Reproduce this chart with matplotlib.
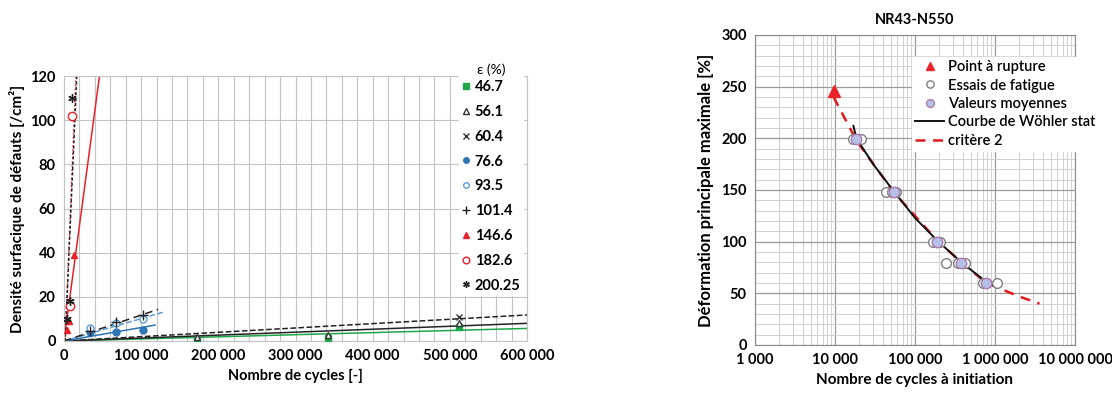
import matplotlib
matplotlib.use("Agg")
import matplotlib.pyplot as plt
from matplotlib.ticker import MultipleLocator, FuncFormatter, LogLocator

plt.rcParams["font.family"] = ["Lato", "DejaVu Sans"]

# ── Left chart: defect density vs cycles ─────────────────────
strain_labels = ["46.7", "56.1", "60.4", "76.6", "93.5", "101.4", "146.6", "182.6", "200.25"]

pts_n = [
    [172000, 342000, 512000],
    [172000, 342000, 512000],
    [512000],
    [34000, 68000, 102000],
    [34000, 68000, 102000],
    [34000, 68000, 102000],
    [3500, 7000, 13000],
    [7500, 10500],
    [3500, 8000, 11000],
]
pts_d = [
    [0.5, 1.3, 6.5],
    [2.0, 2.7, 8.0],
    [11.0],
    [4.2, 4.3, 5.0],
    [5.7, 8.0, 9.8],
    [4.5, 8.7, 11.8],
    [5.0, 9.0, 39.0],
    [16.0, 102.0],
    [10.0, 18.0, 110.0],
]
# trend lines (start / end)
trend_n = [
    [0, 600000], [0, 600000], [0, 600000],
    [0, 118000], [0, 131000], [0, 122000],
    [0, 46000], [1500, 15500], [1500, 16500],
]
trend_d = [
    [0, 5.7], [0, 8.0], [0, 11.8],
    [0, 7.2], [0, 13.3], [0, 14.3],
    [0, 120], [0, 120], [0, 120],
]

# ── Right chart: Wöhler curve ────────────────────────────────
rupture_n = [9600]
rupture_e = [246]
essais_n = [17000, 19000, 21000, 43000, 51000, 58000, 167000, 186000, 205000,
            245000, 348000, 422000, 700000, 780000, 1050000]
essais_e = [199, 199, 199, 148, 148, 148, 100, 100, 100, 79, 79, 79, 60, 60, 60]
moy_n = [18500, 54000, 190000, 380000, 780000]
moy_e = [199, 148, 100, 79, 60]
wohler_n = [17000, 18500, 30000, 54000, 100000, 190000, 380000, 780000, 1000000]
wohler_e = [212, 200, 175, 149, 123, 101, 80, 61, 57]
crit_n = [9600, 18500, 54000, 190000, 380000, 780000, 2000000, 3600000]
crit_e = [240, 198, 148, 101, 80, 60, 47, 40]

fig = plt.figure(figsize=(11.12, 3.94), dpi=100)

# ---- left axes
ax = fig.add_axes([64 / 1112, 1 - 341 / 394, 463 / 1112, 265 / 394])
styles = [
    dict(marker="s", mfc="#21a54a", mec="#21a54a", ms=5, ls="-", lc="#21a54a"),
    dict(marker="^", mfc="white", mec="#333333", ms=5, ls="-", lc="#222222"),
    dict(marker="x", mfc="none", mec="#333333", ms=5, ls="--", lc="#222222"),
    dict(marker="o", mfc="#2e75b6", mec="#2e75b6", ms=5, ls="-", lc="#2e75b6"),
    dict(marker="o", mfc="white", mec="#5b9bd5", ms=5, ls="--", lc="#5b9bd5"),
    dict(marker="+", mfc="none", mec="#222222", ms=7, ls=(0, (5, 3)), lc="#222222"),
    dict(marker="^", mfc="#e8202a", mec="#e8202a", ms=5, ls="-", lc="#e8202a"),
    dict(marker="o", mfc="white", mec="#e8202a", ms=6, ls=":", lc="#e8202a"),
    dict(marker=(6, 2, 0), mfc="none", mec="#222222", ms=6, ls=(0, (2, 1.5)), lc="#222222"),
]
for i, lab in enumerate(strain_labels):
    s = styles[i]
    ax.plot(trend_n[i], trend_d[i], ls=s["ls"], color=s["lc"], lw=1.1, zorder=2)
    ax.plot(pts_n[i], pts_d[i], ls="none", marker=s["marker"], mfc=s["mfc"],
            mec=s["mec"], ms=s["ms"], mew=1.0, label=lab, zorder=3)

ax.set_xlim(0, 600000)
ax.set_ylim(0, 120)
ax.xaxis.set_major_locator(MultipleLocator(100000))
ax.xaxis.set_minor_locator(MultipleLocator(20000))
ax.yaxis.set_major_locator(MultipleLocator(20))
ax.grid(True, which="both", color="#c4c4c4", lw=0.8, zorder=0)
ax.set_axisbelow(True)
ax.xaxis.set_major_formatter(FuncFormatter(lambda v, p: f"{int(v):,}".replace(",", " ")))
ax.tick_params(which="both", length=0, labelsize=10.5, pad=6)
for t in ax.get_xticklabels() + ax.get_yticklabels():
    t.set_fontweight("bold")
for sp in ax.spines.values():
    sp.set_color("#c4c4c4")
ax.set_xlabel("Nombre de cycles [-]", fontsize=10.5, fontweight="bold", labelpad=4)
ax.set_ylabel("Densité surfacique de défauts [/cm²]", fontsize=11, fontweight="bold", labelpad=4)

leg = ax.legend(loc="upper left", bbox_to_anchor=(452 / 1112, 1 - 54 / 394),
                bbox_transform=fig.transFigure, title="ε (%)", frameon=True,
                fancybox=False, edgecolor="white", framealpha=1,
                prop=dict(weight="bold", size=10.5), handlelength=0.6,
                handletextpad=0.3, labelspacing=0.74, markerscale=0.8,
                borderpad=0.15, title_fontsize=10)
leg._legend_box.sep = 3
leg.get_title().set_ha("center")

# ---- right axes
ax2 = fig.add_axes([755 / 1112, 1 - 345 / 394, 320 / 1112, 310 / 394])
ax2.set_xscale("log")
ax2.plot(crit_n, crit_e, ls=(0, (4, 3)), color="#e31a1c", lw=1.8, zorder=2, label="critère 2")
ax2.plot(wohler_n, wohler_e, ls="-", color="#111111", lw=1.4, zorder=3, label="Courbe de Wöhler stat")
ax2.plot(essais_n, essais_e, ls="none", marker="o", mfc="white", mec="#808080", ms=7,
         mew=1.0, zorder=4, label="Essais de fatigue")
ax2.plot(moy_n, moy_e, ls="none", marker="o", mfc="#b4c0e4", mec="#b07ab0", ms=7.5,
         mew=1.0, zorder=5, label="Valeurs moyennes")
ax2.plot(rupture_n, rupture_e, ls="none", marker="^", color="#e8262a", ms=8,
         zorder=6, label="Point à rupture")

ax2.set_xlim(1000, 1e7)
ax2.set_ylim(0, 300)
ax2.yaxis.set_major_locator(MultipleLocator(50))
ax2.yaxis.set_minor_locator(MultipleLocator(10))
ax2.xaxis.set_major_locator(LogLocator(base=10, numticks=10))
ax2.xaxis.set_minor_locator(LogLocator(base=10, subs=range(2, 10), numticks=20))
ax2.grid(True, which="major", color="#9a9a9a", lw=0.9, zorder=0)
ax2.grid(True, which="minor", color="#d0d0d0", lw=0.7, zorder=0)
ax2.set_axisbelow(True)
ax2.xaxis.set_major_formatter(FuncFormatter(lambda v, p: f"{int(round(v)):,}".replace(",", " ")))
ax2.xaxis.set_minor_formatter(FuncFormatter(lambda v, p: ""))
ax2.tick_params(which="both", length=0, labelsize=10.5, pad=6)
for t in ax2.get_xticklabels() + ax2.get_yticklabels():
    t.set_fontweight("bold")
for sp in ax2.spines.values():
    sp.set_color("#8a8a8a")
ax2.set_title("NR43-N550", fontsize=10.5, fontweight="bold", pad=8)
ax2.set_xlabel("Nombre de cycles à initiation", fontsize=11, fontweight="bold", labelpad=4)
ax2.set_ylabel("Déformation principale maximale [%]", fontsize=12, fontweight="bold", labelpad=5)

h, l = ax2.get_legend_handles_labels()
order = [4, 2, 3, 1, 0]
leg2 = ax2.legend([h[k] for k in order], [l[k] for k in order], loc="upper left",
                  bbox_to_anchor=(905 / 1112, 1 - 50 / 394), bbox_transform=fig.transFigure,
                  frameon=True, fancybox=False, edgecolor="white", framealpha=1,
                  prop=dict(weight="semibold", size=10.5), handlelength=2.0,
                  handletextpad=0.25, labelspacing=0.3, borderpad=0.2, markerscale=0.75)

fig.savefig("out.png", dpi=100)
